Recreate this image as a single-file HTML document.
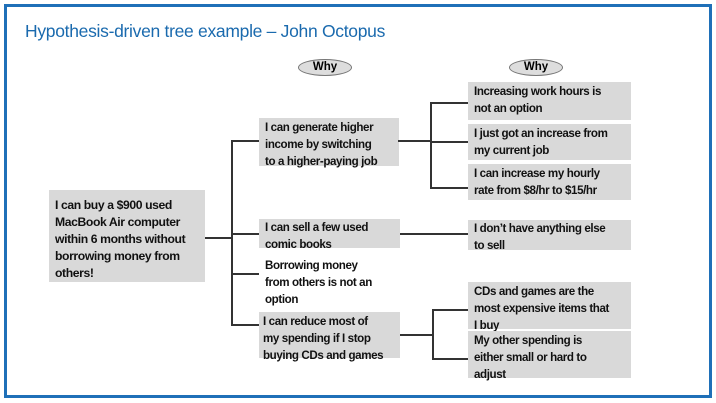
<!DOCTYPE html>
<html><head><style>
body{margin:0;width:716px;height:403px;background:#fff;position:relative;overflow:hidden;font-family:"Liberation Sans",sans-serif}
.frame{position:absolute;left:4px;top:4px;width:702px;height:388px;border:3px solid #1f70b8}
.t{position:absolute;left:25px;top:21px;font-size:17.5px;color:#1a6aae;letter-spacing:-0.3px}
.b{position:absolute;background:#d9d9d9;font-size:11.6px;font-weight:bold;color:#111;line-height:17px;padding:1px 6px;box-sizing:border-box;letter-spacing:-0.4px;white-space:nowrap}
.l{position:absolute;background:#333}
.why{position:absolute;width:52px;height:15px;border:1px solid #777;border-radius:50%;background:#ddd;font-size:11.5px;font-weight:bold;text-align:center;line-height:15px}
</style></head><body>
<div class="frame"></div>
<div class="t">Hypothesis-driven tree example – John Octopus</div>
<div class="why" style="left:298px;top:59px">Why</div>
<div class="why" style="left:509px;top:59px">Why</div>

<div class="b" style="left:49px;top:190px;width:156px;height:92px;padding-top:7px;font-size:12.2px">I can buy a $900 used<br>MacBook Air computer<br>within 6 months without<br>borrowing money from<br>others!</div>
<div class="l" style="left:205px;top:237px;width:27px;height:1.5px"></div>
<div class="l" style="left:231px;top:140px;width:1.5px;height:186px"></div>

<div class="b" style="left:259px;top:118px;width:140px;height:48px">I can generate higher<br>income by switching<br>to a higher-paying job</div>
<div class="l" style="left:231px;top:140px;width:28px;height:1.5px"></div>
<div class="l" style="left:398px;top:140px;width:32px;height:1.5px"></div>
<div class="l" style="left:430px;top:102px;width:1.5px;height:86px"></div>
<div class="l" style="left:430px;top:102px;width:38px;height:1.5px"></div>
<div class="l" style="left:430px;top:141px;width:38px;height:1.5px"></div>
<div class="l" style="left:430px;top:187px;width:38px;height:1.5px"></div>
<div class="b" style="left:468px;top:82px;width:163px;height:38px">Increasing work hours is<br>not an option</div>
<div class="b" style="left:468px;top:124px;width:163px;height:36px">I just got an increase from<br>my current job</div>
<div class="b" style="left:468px;top:164px;width:163px;height:36px">I can increase my hourly<br>rate from $8/hr to $15/hr</div>

<div class="b" style="left:259px;top:219px;width:141px;height:29px;padding-top:0">I can sell a few used<br>comic books</div>
<div class="l" style="left:231px;top:233px;width:28px;height:1.5px"></div>
<div class="l" style="left:400px;top:233px;width:68px;height:1.5px"></div>
<div class="b" style="left:468px;top:220px;width:163px;height:30px;padding-top:0">I don’t have anything else<br>to sell</div>

<div class="b" style="left:259px;top:256px;width:145px;height:46px;background:none">Borrowing money<br>from others is not an<br>option</div>
<div class="l" style="left:231px;top:273px;width:28px;height:1.5px"></div>

<div class="b" style="left:259px;top:312px;width:141px;height:46px;padding-left:4px">I can reduce most of<br>my spending if I stop<br>buying CDs and games</div>
<div class="l" style="left:231px;top:324px;width:28px;height:1.5px"></div>
<div class="l" style="left:400px;top:334px;width:33px;height:1.5px"></div>
<div class="l" style="left:432px;top:309px;width:1.5px;height:50px"></div>
<div class="l" style="left:432px;top:309px;width:36px;height:1.5px"></div>
<div class="l" style="left:432px;top:358px;width:36px;height:1.5px"></div>
<div class="b" style="left:468px;top:282px;width:163px;height:47px">CDs and games are the<br>most expensive items that<br>I buy</div>
<div class="b" style="left:468px;top:331px;width:163px;height:47px">My other spending is<br>either small or hard to<br>adjust</div>
</body></html>
